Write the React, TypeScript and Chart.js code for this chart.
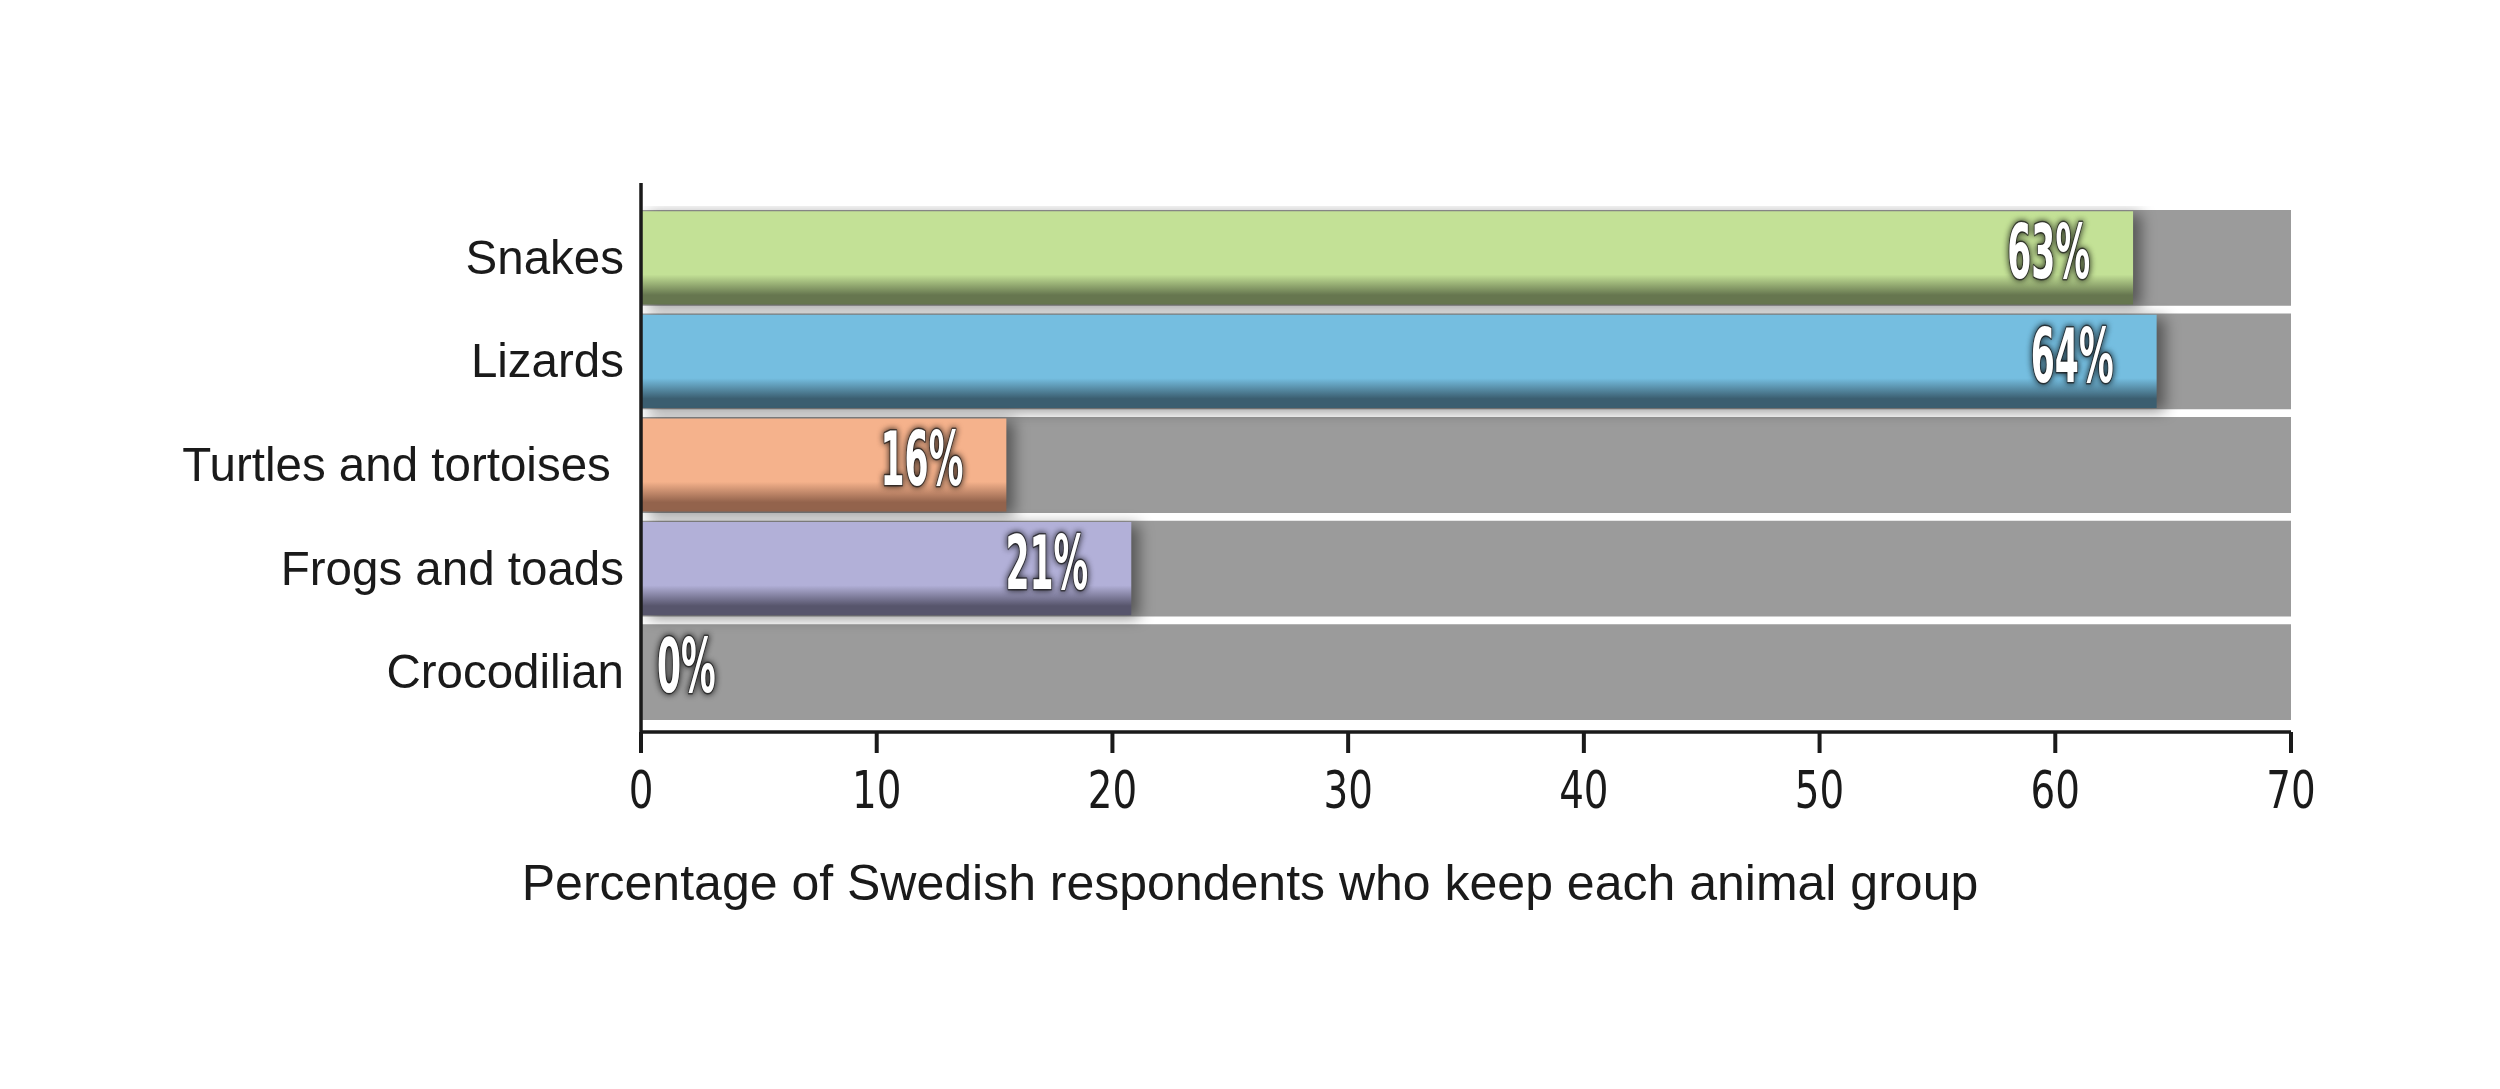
import { useEffect, useRef } from 'react'
import { Chart, registerables } from 'chart.js'

Chart.register(...registerables)

const categories = ['Snakes', 'Lizards', 'Turtles and tortoises ', 'Frogs and toads', 'Crocodilian']
const percentages = [63.3, 64.3, 15.5, 20.8, 0]
const trackValues = [70, 70, 70, 70, 70]
const xTicks = [0, 10, 20, 30, 40, 50, 60, 70]
const axisTitle = 'Percentage of Swedish respondents who keep each animal group'

const barColors = ['#c3e196', '#75bee0', '#f5b28c', '#b2b0d8', '#9b9b9b']
const barShades = ['#66764f', '#3b5e70', '#93634c', '#57556c', '#9b9b9b']
const trackColor = '#9b9b9b'
const inkColor = '#1a1a1a'
const narrowFont = '"Liberation Sans Narrow", "DejaVu Sans Condensed", "Roboto Condensed", sans-serif'
const plainFont = '"Liberation Sans", Arial, sans-serif'

export default function App() {
  const chartRef = useRef<HTMLCanvasElement>(null)
  const chartInstanceRef = useRef<Chart | null>(null)

  useEffect(() => {
    document.body.style.margin = '0'
    if (!chartRef.current) return
    const ctx = chartRef.current.getContext('2d')
    if (!ctx) return

    if (chartInstanceRef.current) {
      chartInstanceRef.current.destroy()
    }

    const bevelFill = (c: any) => {
      const i = c.dataIndex
      const base = barColors[i]
      const chart = c.chart
      const y = chart.scales?.y
      if (!y || c.type !== 'data' || !chart.chartArea) return base
      const center = y.getPixelForValue(i)
      const band = Math.abs(y.getPixelForValue(1) - y.getPixelForValue(0))
      const half = (band * 0.9) / 2
      const g = chart.ctx.createLinearGradient(0, center - half, 0, center + half)
      g.addColorStop(0, base)
      g.addColorStop(0.68, base)
      g.addColorStop(0.9, barShades[i])
      g.addColorStop(1, barShades[i])
      return g
    }

    const shadowPlugin = {
      id: 'barShadow',
      beforeDatasetDraw(chart: any, args: any) {
        if (args.index !== 0) return
        const c = chart.ctx
        c.save()
        c.shadowColor = 'rgba(0,0,0,0.45)'
        c.shadowBlur = 14
        c.shadowOffsetX = 8
        c.shadowOffsetY = 3
      },
      afterDatasetDraw(chart: any, args: any) {
        if (args.index !== 0) return
        chart.ctx.restore()
      },
    }

    const decorPlugin = {
      id: 'decor',
      afterDraw(chart: any) {
        const c = chart.ctx
        const { left, right, top, bottom } = chart.chartArea
        const xs = chart.scales.x
        const axisY = bottom + 8
        c.save()
        c.strokeStyle = inkColor
        c.lineWidth = 3.5
        c.beginPath()
        c.moveTo(left, top - 23)
        c.lineTo(left, axisY)
        c.lineTo(right, axisY)
        c.stroke()
        c.lineWidth = 4
        c.fillStyle = inkColor
        c.font = `52px ${narrowFont}`
        c.textAlign = 'center'
        c.textBaseline = 'alphabetic'
        xTicks.forEach((t) => {
          const px = xs.getPixelForValue(t)
          c.beginPath()
          c.moveTo(px, axisY)
          c.lineTo(px, axisY + 21)
          c.stroke()
          c.save()
          c.translate(px, axisY + 76)
          c.scale(0.83, 1)
          c.fillText(String(t), 0, 0)
          c.restore()
        })

        // value labels
        const meta = chart.getDatasetMeta(0)
        const sx = 0.52
        c.font = `bold 74px ${narrowFont}`
        c.textBaseline = 'middle'
        c.textAlign = 'right'
        meta.data.forEach((bar: any, i: number) => {
          const text = `${Math.round(percentages[i])}%`
          const w = c.measureText(text).width * sx
          const xr = Math.max(bar.x - 43, left + 16 + w)
          c.save()
          c.translate(xr, bar.y)
          c.scale(sx, 1)
          c.shadowColor = 'rgba(0,0,0,0.85)'
          c.shadowBlur = 6
          c.lineJoin = 'round'
          c.lineWidth = 3
          c.strokeStyle = 'rgba(40,40,40,0.7)'
          c.strokeText(text, 0, 1)
          c.fillStyle = '#ffffff'
          c.fillText(text, 0, 1)
          c.restore()
        })

        c.fillStyle = inkColor
        c.font = `50px ${plainFont}`
        c.textAlign = 'center'
        c.textBaseline = 'middle'
        c.fillText(axisTitle, chart.width / 2, 886)
        c.restore()
      },
    }

    chartInstanceRef.current = new Chart(ctx, {
      type: 'bar',
      data: {
        labels: categories,
        datasets: [
          {
            label: 'Share',
            data: percentages,
            backgroundColor: bevelFill,
            borderWidth: 0,
            barPercentage: 0.9,
            categoryPercentage: 1,
            grouped: false,
            order: 1,
          },
          {
            label: 'Track',
            data: trackValues,
            backgroundColor: trackColor,
            borderWidth: 0,
            barPercentage: 0.925,
            categoryPercentage: 1,
            grouped: false,
            order: 2,
          },
        ],
      },
      options: {
        indexAxis: 'y',
        animation: false,
        responsive: true,
        maintainAspectRatio: false,
        layout: { padding: { top: 206, right: 209, bottom: 265, left: 0 } },
        plugins: {
          legend: { display: false },
          tooltip: { enabled: false },
          title: { display: false },
        },
        scales: {
          x: {
            min: 0,
            max: 70,
            afterFit: (scale: any) => {
              scale.height = 100
            },
            afterBuildTicks: (scale: any) => {
              scale.ticks = xTicks.map((v) => ({ value: v }))
            },
            grid: { display: false, drawTicks: false },
            border: { display: false },
            ticks: { display: false },
          },
          y: {
            afterFit: (scale: any) => {
              scale.width = 641
            },
            grid: { display: false, drawTicks: false },
            border: { display: false },
            ticks: {
              color: inkColor,
              padding: 17,
              labelOffset: 3,
              font: { family: plainFont, size: 47.5 },
            },
          },
        },
      },
      plugins: [shadowPlugin, decorPlugin],
    })

    return () => {
      chartInstanceRef.current?.destroy()
      chartInstanceRef.current = null
    }
  }, [])

  return (
    <div style={{ position: 'relative', width: 2500, height: 1089, background: '#ffffff' }}>
      <canvas ref={chartRef}></canvas>
    </div>
  )
}
